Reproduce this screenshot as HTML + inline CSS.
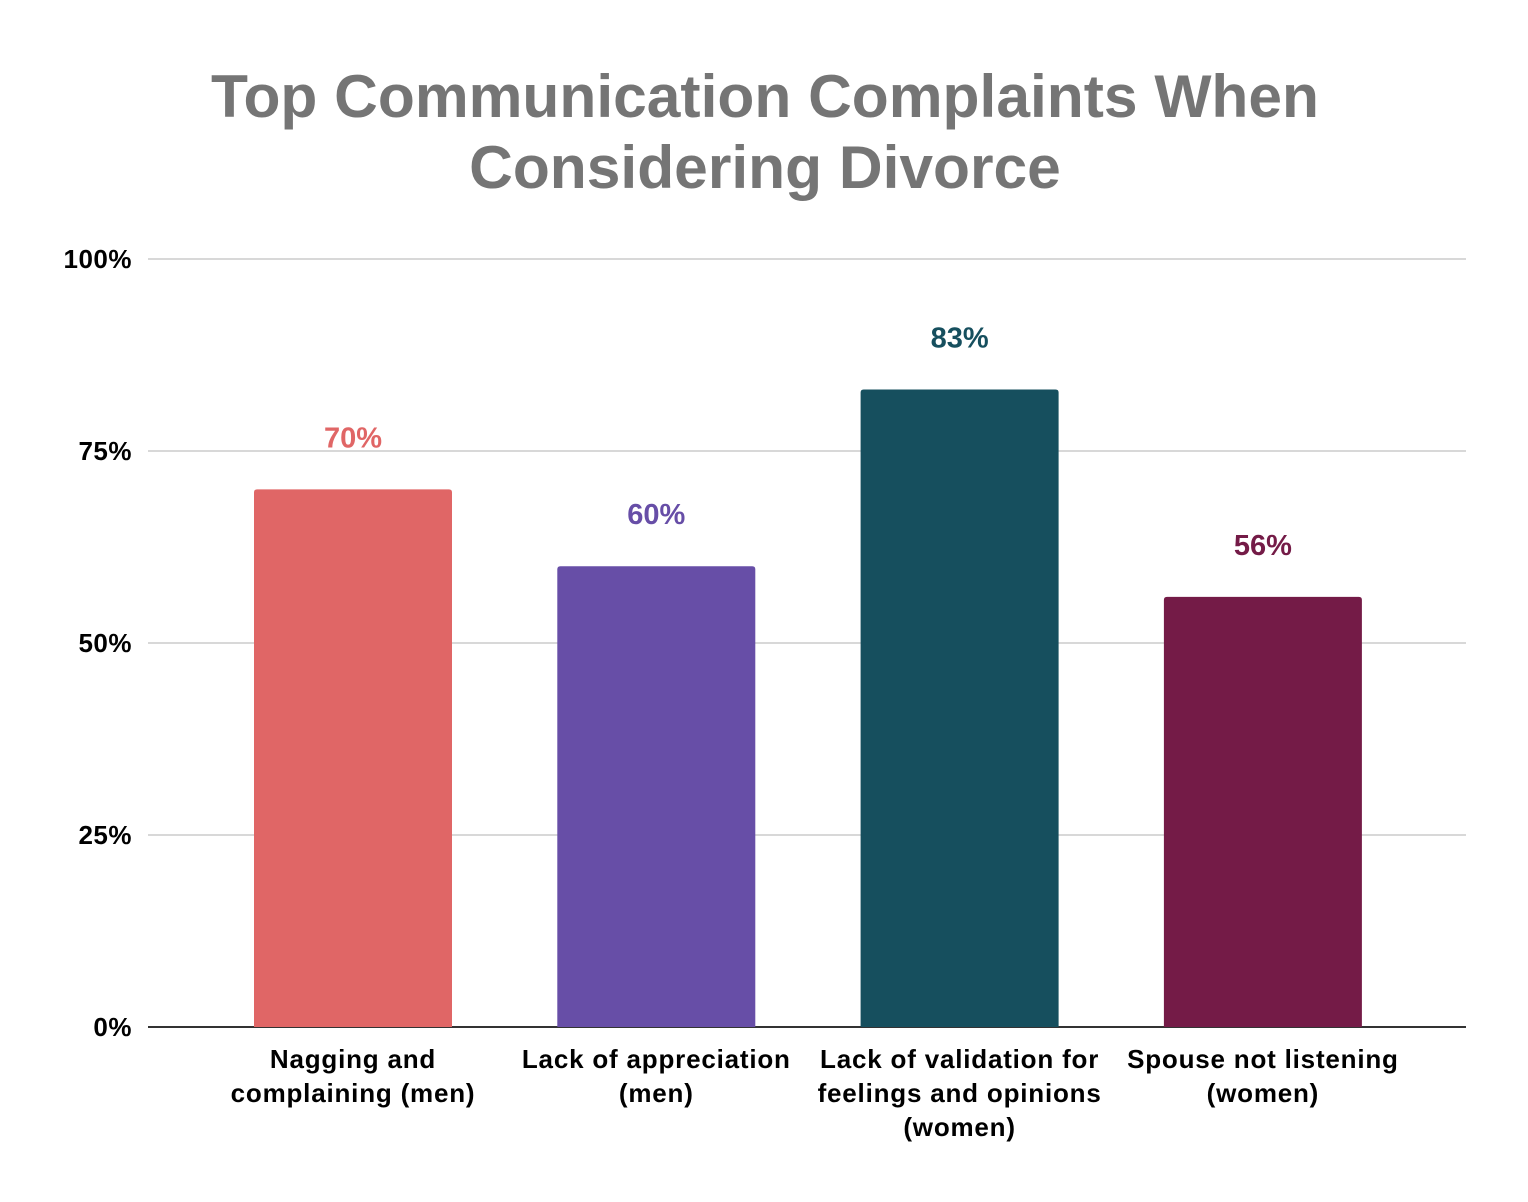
<!DOCTYPE html>
<html><head><meta charset="utf-8"><style>
body{margin:0;background:#fff;}
svg{display:block;font-family:"Liberation Sans",Arial,sans-serif;}
</style></head><body>
<svg id="chart" width="1528" height="1202" viewBox="0 0 1528 1202">
<text x="765" y="117" text-anchor="middle" font-size="60.5" font-weight="bold" fill="#757575">Top Communication Complaints When</text>
<text x="765" y="188" text-anchor="middle" font-size="60.5" font-weight="bold" fill="#757575">Considering Divorce</text>
<g id="grid"></g><g id="bars"></g><g id="labels"></g>
</svg>
<script>
const categories=[["Nagging and","complaining (men)"],["Lack of appreciation","(men)"],["Lack of validation for","feelings and opinions","(women)"],["Spouse not listening","(women)"]];
const values=[70,60,83,56];
const valueLabels=["70%","60%","83%","56%"];
const colors=["#e06666","#674ea7","#164f5e","#741b47"];
const ticks=[0,25,50,75,100];
const tickLabels=["0%","25%","50%","75%","100%"];
const NS="http://www.w3.org/2000/svg";
const y0=1027,y100=259,xL=148,xR=1466,firstC=353,step=303.3,bw=198;
const y=v=>y0-(y0-y100)*v/100;
const x=i=>firstC+i*step;
function mk(t,a,p){const e=document.createElementNS(NS,t);for(const k in a)e.setAttribute(k,a[k]);p.appendChild(e);return e;}
const g=document.getElementById('grid'),b=document.getElementById('bars'),l=document.getElementById('labels');
ticks.forEach((t,i)=>{
 const ln=mk('line',{x1:xL,x2:xR,y1:y(t),y2:y(t),stroke:t===0?'#333':'#ccc','stroke-width':t===0?2:1.5},g);
 
 
 const tx=mk('text',{x:132,y:y(t)+9,'text-anchor':'end','font-size':26,'font-weight':'bold','letter-spacing':0.5,fill:'#000'},g);
 tx.textContent=tickLabels[i];
 
 
});
values.forEach((v,i)=>{
 const top=y(v),r=3;
 const p=mk('path',{d:`M${x(i)-bw/2},${y0} V${top+r} Q${x(i)-bw/2},${top} ${x(i)-bw/2+r},${top} H${x(i)+bw/2-r} Q${x(i)+bw/2},${top} ${x(i)+bw/2},${top+r} V${y0} Z`,fill:colors[i]},b);
 
 
 const vt=mk('text',{x:x(i),y:top-42,'text-anchor':'middle','font-size':29,'font-weight':'bold',fill:colors[i],stroke:'#fff','stroke-width':3,'paint-order':'stroke'},l);
 vt.textContent=valueLabels[i];
 
 
 categories[i].forEach((s,j)=>{
  const ct=mk('text',{x:x(i),y:1068+j*34,'text-anchor':'middle','font-size':26,'font-weight':'bold','letter-spacing':0.8,fill:'#000'},l);
  ct.textContent=s;
  
  
 });
});
</script>
</body></html>
